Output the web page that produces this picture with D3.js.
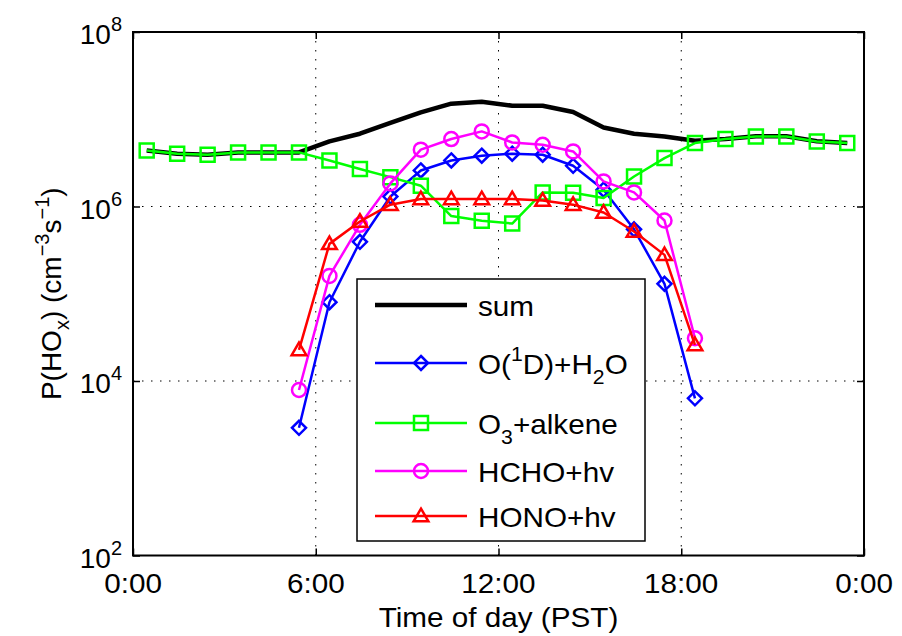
<!DOCTYPE html>
<html><head><meta charset="utf-8">
<script src="https://cdn.jsdelivr.net/npm/d3@7/dist/d3.min.js"></script>
<style>
body{margin:0;background:#fff}
svg{display:block}
text{font-family:"Liberation Sans",Arial,Helvetica,sans-serif;fill:#000}
</style>
</head><body>
<svg id="chart" width="902" height="636"></svg>
<script>
// ---- data ----
const hours = [0.45,1.45,2.45,3.45,4.45,5.45,6.45,7.45,8.45,9.45,10.45,11.45,12.45,13.45,14.45,15.45,16.45,17.45,18.45,19.45,20.45,21.45,22.45,23.45];
const sumVals   = [4.39e6,4.03e6,3.92e6,4.17e6,4.17e6,4.17e6,5.57e6,6.83e6,9.06e6,1.20e7,1.51e7,1.59e7,1.43e7,1.43e7,1.21e7,8.06e6,6.83e6,6.36e6,5.67e6,5.95e6,6.38e6,6.38e6,5.59e6,5.36e6];
const o1dVals   = [null,null,null,null,null,2.91e3,8.0e4,3.94e5,1.30e6,2.59e6,3.37e6,3.82e6,4.03e6,3.92e6,2.93e6,1.56e6,5.47e5,1.30e5,6.33e3,null,null,null,null,null];
const o3Vals    = [4.39e6,4.03e6,3.92e6,4.17e6,4.17e6,4.17e6,3.37e6,2.69e6,2.17e6,1.73e6,7.76e5,6.85e5,6.38e5,1.45e6,1.44e6,1.25e6,2.21e6,3.59e6,5.34e6,5.93e6,6.36e6,6.36e6,5.57e6,5.34e6];
const hchoVals  = [null,null,null,null,null,7.89e3,1.60e5,6.17e5,1.84e6,4.48e6,5.93e6,7.26e6,5.42e6,5.10e6,4.28e6,1.94e6,1.45e6,6.91e5,3.09e4,null,null,null,null,null];
const honoVals  = [null,null,null,null,null,2.27e4,3.73e5,6.73e5,1.05e6,1.22e6,1.22e6,1.22e6,1.22e6,1.17e6,1.05e6,8.53e5,5.17e5,2.79e5,2.59e4,null,null,null,null,null];
const xTickVals = [0,6,12,18,24];
const xTickLabels = ["0:00","6:00","12:00","18:00","0:00"];
const yTickVals = [1e2,1e4,1e6,1e8];
const yTickExps = ["2","4","6","8"];

const series = [
  {name:"sum",  vals:sumVals,  color:"#000000", width:4.5, marker:null},
  {name:"o1d",  vals:o1dVals,  color:"#0000ff", width:2.5, marker:"diamond"},
  {name:"o3",   vals:o3Vals,   color:"#00ff00", width:2.5, marker:"square"},
  {name:"hcho", vals:hchoVals, color:"#ff00ff", width:2.5, marker:"circle"},
  {name:"hono", vals:honoVals, color:"#ff0000", width:2.5, marker:"triangle"}
];

// ---- layout ----
const L=133, R=864, T=32, B=555.5;
const FS=28, SUB=20, SX=1.06;
const svg = d3.select("#chart");
const x = d3.scaleLinear().domain([0,24]).range([L,R]);
const y = d3.scaleLog().domain([1e2,1e8]).range([B,T]);

// grid
const grid = svg.append("g");
grid.selectAll("line.gx").data(xTickVals.slice(1,-1)).join("line")
  .attr("x1",d=>x(d)).attr("x2",d=>x(d)).attr("y1",T).attr("y2",B)
  .attr("stroke","#000").attr("stroke-width",1).attr("stroke-dasharray","1.5,7.5");
grid.selectAll("line.gy").data(yTickVals.slice(1,-1)).join("line")
  .attr("y1",d=>y(d)).attr("y2",d=>y(d)).attr("x1",L).attr("x2",R)
  .attr("stroke","#000").attr("stroke-width",1).attr("stroke-dasharray","1.5,7.5");

// markers
function markerPath(type, s){
  if(type==="diamond") return `M0,${-s}L${s},0L0,${s}L${-s},0Z`;
  if(type==="square") return `M${-s},${-s}H${s}V${s}H${-s}Z`;
  if(type==="triangle") return `M0,${-s*1.05}L${s*1.05},${s*0.75}L${-s*1.05},${s*0.75}Z`;
  return null;
}
function drawMarker(g, type, cx, cy, color){
  if(type==="circle"){
    g.append("circle").attr("cx",cx).attr("cy",cy).attr("r",7)
      .attr("fill","none").attr("stroke",color).attr("stroke-width",2.5);
  } else {
    g.append("path").attr("d",markerPath(type,7)).attr("transform",`translate(${cx},${cy})`)
      .attr("fill","none").attr("stroke",color).attr("stroke-width",2.5);
  }
}

const plot = svg.append("g");
const line = d3.line().defined(d=>d.v!=null).x(d=>x(d.h)).y(d=>y(d.v));
series.forEach(s=>{
  const pts = hours.map((h,i)=>({h, v:s.vals[i]}));
  plot.append("path").datum(pts).attr("d",line)
    .attr("fill","none").attr("stroke",s.color).attr("stroke-width",s.width)
    .attr("stroke-linejoin","round");
  if(s.marker){
    pts.filter(p=>p.v!=null).forEach(p=>drawMarker(plot, s.marker, x(p.h), y(p.v), s.color));
  }
});

// axes box
svg.append("rect").attr("x",L).attr("y",T).attr("width",R-L).attr("height",B-T)
  .attr("fill","none").attr("stroke","#000").attr("stroke-width",2);

const axB = svg.append("g").attr("transform",`translate(0,${B})`)
  .call(d3.axisBottom(x).tickValues(xTickVals).tickSize(-7).tickFormat(""));
const axT = svg.append("g").attr("transform",`translate(0,${T})`)
  .call(d3.axisTop(x).tickValues(xTickVals).tickSize(-7).tickFormat(""));
const axL = svg.append("g").attr("transform",`translate(${L},0)`)
  .call(d3.axisLeft(y).tickValues(yTickVals).tickSize(-7).tickFormat(""));
const axR = svg.append("g").attr("transform",`translate(${R},0)`)
  .call(d3.axisRight(y).tickValues(yTickVals).tickSize(-7).tickFormat(""));
[axB,axT,axL,axR].forEach(a=>{
  a.select(".domain").remove();
  a.selectAll(".tick line").attr("stroke","#000").attr("stroke-width",1.5);
});

// x tick labels
xTickVals.forEach((v,i)=>{
  svg.append("text").attr("transform",`translate(${x(v)},593) scale(${SX},1)`)
    .attr("text-anchor","middle").attr("font-size",FS).text(xTickLabels[i]);
});

// y tick labels with superscripts
const yl = svg.append("g");
yTickVals.forEach((v,i)=>{
  const t = yl.append("text").attr("x",L-11).attr("y",y(v)+12).attr("text-anchor","end").attr("font-size",FS);
  t.append("tspan").text("10");
  t.append("tspan").attr("dy",-13).attr("font-size",SUB).text(yTickExps[i]);
});

// axis labels
svg.append("text").attr("transform",`translate(${(L+R)/2},627) scale(${SX},1)`)
  .attr("text-anchor","middle").attr("font-size",FS).text("Time of day (PST)");
const ylab = svg.append("text").attr("transform",`translate(61,${(T+B)/2}) rotate(-90)`)
  .attr("text-anchor","middle").attr("font-size",FS);
ylab.append("tspan").text("P(HO");
ylab.append("tspan").attr("dy",8).attr("font-size",SUB).text("x");
ylab.append("tspan").attr("dy",-8).text(") (cm");
ylab.append("tspan").attr("dy",-12).attr("font-size",SUB).text("\u2212" + "3");
ylab.append("tspan").attr("dy",12).text("s");
ylab.append("tspan").attr("dy",-12).attr("font-size",SUB).text("\u2212" + "1");
ylab.append("tspan").attr("dy",12).text(")");

// legend
const lg = svg.append("g");
lg.append("rect").attr("x",357).attr("y",279).attr("width",288).attr("height",262)
  .attr("fill","#fff").attr("stroke","#000").attr("stroke-width",1.5);
const legRows = [
  {s:series[0], y:305, parts:[["sum",0]]},
  {s:series[1], y:363, parts:[["O(",0],["1",-1],["D)+H",0],["2",1],["O",0]]},
  {s:series[2], y:423, parts:[["O",0],["3",1],["+alkene",0]]},
  {s:series[3], y:471, parts:[["HCHO+hv",0]]},
  {s:series[4], y:516, parts:[["HONO+hv",0]]}
];
legRows.forEach(r=>{
  lg.append("line").attr("x1",375).attr("x2",467).attr("y1",r.y).attr("y2",r.y)
    .attr("stroke",r.s.color).attr("stroke-width",r.s.width);
  if(r.s.marker) drawMarker(lg, r.s.marker, 421, r.y, r.s.color);
  const t = lg.append("text").attr("transform",`translate(478,${r.y+11}) scale(${SX},1)`).attr("font-size",FS);
  let cur = 0;
  r.parts.forEach(([txt,lvl])=>{
    const target = lvl===-1 ? -13 : (lvl===1 ? 10 : 0);
    const ts = t.append("tspan").attr("dy",target-cur).text(txt);
    if(lvl!==0) ts.attr("font-size",SUB);
    cur = target;
  });
});
</script>
</body></html>
